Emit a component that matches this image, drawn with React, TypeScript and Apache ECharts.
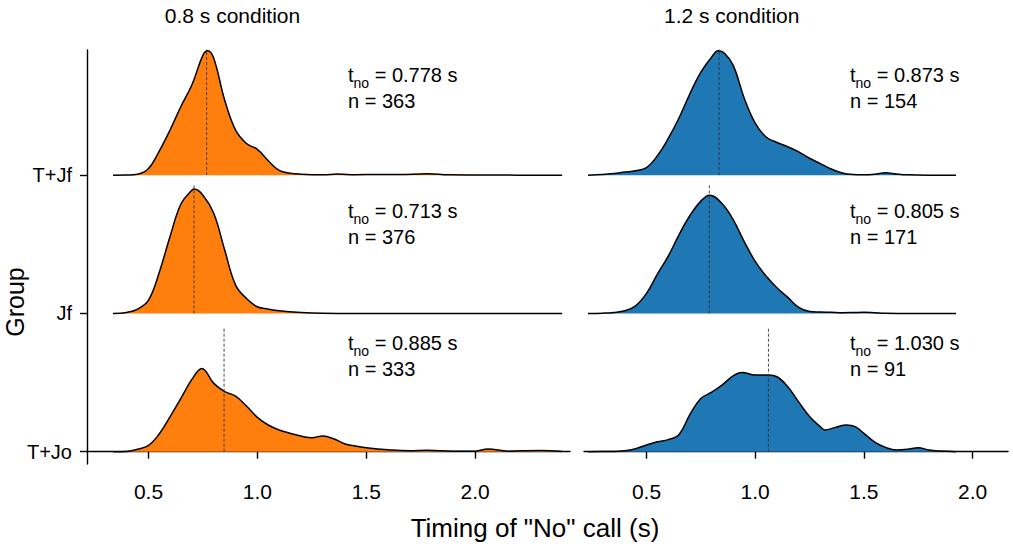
import React, { useEffect, useRef } from "react";
import * as echarts from "echarts";

// Groups, listed from top ridge to bottom ridge
const groups = ["T+Jf", "Jf", "T+Jo"];
const conditions = ["0.8 s condition", "1.2 s condition"];
const xTicks = [0.5, 1.0, 1.5, 2.0];
const groupTicks = [0, 1, 2];

// ---- 0.8 s condition: density curves (height in ridge units) ----
const x08TJf = [0.337, 0.4, 0.45, 0.5, 0.55, 0.6, 0.65, 0.7, 0.75, 0.772, 0.8, 0.85, 0.9, 0.95, 1.0, 1.05, 1.1, 1.15, 1.2, 1.3, 1.37, 1.45, 1.55, 1.65, 1.78, 1.88, 2.0, 2.2, 2.4];
const d08TJf = [0, 0.001, 0.007, 0.048, 0.176, 0.33, 0.5, 0.655, 0.868, 0.899, 0.843, 0.542, 0.325, 0.229, 0.186, 0.104, 0.034, 0.014, 0.007, 0.003, 0.008, 0.003, 0.005, 0.004, 0.01, 0.002, 0.001, 0, 0];

const x08Jf = [0.337, 0.4, 0.45, 0.5, 0.55, 0.6, 0.65, 0.7, 0.71, 0.75, 0.8, 0.85, 0.9, 0.95, 1.0, 1.05, 1.1, 1.2, 1.3, 1.4, 2.4];
const d08Jf = [0, 0.007, 0.031, 0.096, 0.3, 0.562, 0.795, 0.892, 0.899, 0.855, 0.723, 0.458, 0.205, 0.108, 0.048, 0.031, 0.019, 0.007, 0.001, 0, 0];

const x08TJo = [0.337, 0.4, 0.45, 0.5, 0.55, 0.6, 0.65, 0.7, 0.745, 0.8, 0.85, 0.9, 0.95, 1.0, 1.05, 1.1, 1.15, 1.2, 1.25, 1.3, 1.35, 1.4, 1.45, 1.5, 1.6, 1.7, 1.78, 1.9, 2.0, 2.06, 2.15, 2.3, 2.4];
const d08TJo = [0, 0.002, 0.017, 0.045, 0.13, 0.255, 0.39, 0.525, 0.602, 0.494, 0.434, 0.402, 0.33, 0.248, 0.193, 0.157, 0.133, 0.113, 0.101, 0.113, 0.094, 0.058, 0.041, 0.029, 0.014, 0.006, 0.01, 0.003, 0.004, 0.019, 0.004, 0.008, 0.002];

// ---- 1.2 s condition ----
const x12TJf = [0.231, 0.3, 0.35, 0.4, 0.45, 0.5, 0.55, 0.6, 0.65, 0.7, 0.75, 0.8, 0.83, 0.86, 0.9, 0.95, 1.0, 1.05, 1.1, 1.15, 1.2, 1.25, 1.3, 1.35, 1.4, 1.45, 1.5, 1.55, 1.6, 1.65, 1.7, 1.8, 1.924];
const d12TJf = [0, 0.005, 0.012, 0.022, 0.031, 0.055, 0.14, 0.265, 0.415, 0.59, 0.745, 0.855, 0.899, 0.88, 0.79, 0.555, 0.376, 0.276, 0.236, 0.205, 0.168, 0.122, 0.083, 0.044, 0.016, 0.005, 0.003, 0.007, 0.017, 0.008, 0.002, 0, 0];

const x12Jf = [0.231, 0.3, 0.35, 0.4, 0.45, 0.5, 0.55, 0.6, 0.65, 0.7, 0.75, 0.79, 0.85, 0.9, 0.95, 1.0, 1.05, 1.1, 1.15, 1.2, 1.25, 1.3, 1.35, 1.4, 1.45, 1.5, 1.55, 1.6, 1.7, 1.924];
const d12Jf = [0, 0.002, 0.007, 0.019, 0.055, 0.145, 0.285, 0.414, 0.57, 0.708, 0.812, 0.855, 0.79, 0.675, 0.518, 0.376, 0.27, 0.185, 0.116, 0.043, 0.014, 0.01, 0.008, 0.005, 0.006, 0.008, 0.005, 0.002, 0, 0];

const x12TJo = [0.231, 0.3, 0.35, 0.4, 0.45, 0.5, 0.55, 0.6, 0.65, 0.7, 0.75, 0.8, 0.85, 0.9, 0.94, 1.0, 1.06, 1.1, 1.15, 1.2, 1.25, 1.3, 1.32, 1.37, 1.42, 1.46, 1.5, 1.55, 1.6, 1.65, 1.7, 1.75, 1.8, 1.85, 1.924];
const d12TJo = [0, 0.002, 0.002, 0.007, 0.022, 0.048, 0.072, 0.087, 0.125, 0.27, 0.385, 0.43, 0.485, 0.55, 0.573, 0.554, 0.554, 0.542, 0.47, 0.36, 0.255, 0.18, 0.157, 0.176, 0.193, 0.181, 0.133, 0.07, 0.031, 0.012, 0.017, 0.029, 0.012, 0.005, 0];

// dashed reference lines (x position and height in ridge units), top to bottom
const lineX08 = [0.767, 0.709, 0.847];
const lineX12 = [0.834, 0.789, 1.061];
const lineH08 = [0.983, 0.94, 0.892];
const lineH12 = [0.983, 0.94, 0.892];

// annotations, top to bottom
const tno08 = ["0.778", "0.713", "0.885"];
const n08 = [363, 376, 333];
const tno12 = ["0.873", "0.805", "1.030"];
const n12 = [154, 171, 91];

const FONT = "'Liberation Sans', Arial, Helvetica, sans-serif";
const fills = ["#FF7F0E", "#1F77B4"];

export default function App() {
  const ref = useRef<HTMLDivElement>(null);

  useEffect(() => {
    document.body.style.margin = "0";
    if (!ref.current) return;
    const chart = echarts.init(ref.current, undefined, { renderer: "svg" });

    const panels = [
      { xs: [x08TJf, x08Jf, x08TJo], ds: [d08TJf, d08Jf, d08TJo], lx: lineX08, lh: lineH08, tno: tno08, n: n08 },
      { xs: [x12TJf, x12Jf, x12TJo], ds: [d12TJf, d12Jf, d12TJo], lx: lineX12, lh: lineH12, tno: tno12, n: n12 },
    ];

    const series: any[] = [];
    panels.forEach((p, pi) => {
      groups.forEach((g, gi) => {
        const off = groups.length - 1 - gi;
        series.push({
          name: `${conditions[pi]} ${g}`,
          type: "line",
          xAxisIndex: pi,
          yAxisIndex: pi,
          data: p.xs[gi].map((x, k) => [x, p.ds[gi][k] + off]),
          smooth: 0.4,
          symbol: "none",
          silent: true,
          lineStyle: { color: "#000", width: 1.5 },
          areaStyle: { color: fills[pi], opacity: 1, origin: off },
          z: 2 + gi,
        });
        series.push({
          type: "line",
          xAxisIndex: pi,
          yAxisIndex: pi,
          data: [
            [p.lx[gi], off],
            [p.lx[gi], off + p.lh[gi]],
          ],
          symbol: "none",
          silent: true,
          lineStyle: { color: "#333", width: 0.9, type: [3, 2] },
          z: 2 + gi,
        });
      });
    });

    const lineY1 = [75, 211, 343];
    const annX = [348, 850];
    const graphics: any[] = [];
    panels.forEach((p, pi) => {
      groups.forEach((g, gi) => {
        graphics.push({
          type: "text",
          x: annX[pi],
          y: lineY1[gi],
          style: {
            text: `{a|t}{b|no}{a| = ${p.tno[gi]} s}`,
            align: "left",
            verticalAlign: "middle",
            rich: {
              a: { fontSize: 20, lineHeight: 30, fontFamily: FONT, fill: "#000" },
              b: { fontSize: 14, lineHeight: 16, verticalAlign: "bottom", fontFamily: FONT, fill: "#000" },
            },
          },
        });
        graphics.push({
          type: "text",
          x: annX[pi],
          y: lineY1[gi] + 26,
          style: {
            text: `n = ${p.n[gi]}`,
            fontSize: 20,
            fontFamily: FONT,
            fill: "#000",
            align: "left",
            verticalAlign: "middle",
          },
        });
      });
    });
    const titleX = [232.5, 731.7];
    conditions.forEach((c, i) => {
      graphics.push({
        type: "text",
        x: titleX[i],
        y: 15,
        style: { text: c, fontSize: 21, fontFamily: FONT, fill: "#000", align: "center", verticalAlign: "middle" },
      });
    });
    graphics.push({
      type: "text",
      x: 535,
      y: 528,
      style: { text: 'Timing of "No" call (s)', fontSize: 26, fontFamily: FONT, fill: "#000", align: "center", verticalAlign: "middle" },
    });
    graphics.push({
      type: "text",
      x: 15,
      y: 302,
      rotation: Math.PI / 2,
      style: { text: "Group", fontSize: 25, fontFamily: FONT, fill: "#000", align: "center", verticalAlign: "middle" },
    });

    const xAxisCommon = (min: number, max: number, gridIndex: number) => ({
      type: "value",
      gridIndex,
      min,
      max,
      axisLine: { show: true, lineStyle: { color: "#000", width: 1.4 } },
      axisTick: { show: true, customValues: xTicks, length: 7, lineStyle: { color: "#000", width: 1.4 } },
      axisLabel: {
        customValues: xTicks,
        formatter: (v: number) => v.toFixed(1),
        fontSize: 21,
        fontFamily: FONT,
        color: "#000",
        margin: 17,
      },
      splitLine: { show: false },
    });

    chart.setOption({
      animation: false,
      backgroundColor: "#fff",
      grid: [
        { left: 87, top: 50, width: 483, height: 414 },
        { left: 584, top: 50, width: 424, height: 414 },
      ],
      xAxis: [xAxisCommon(0.2175, 2.436, 0), xAxisCommon(0.2125, 2.163, 1)],
      yAxis: [
        {
          type: "value",
          gridIndex: 0,
          min: -0.089,
          max: 2.905,
          axisLine: { show: true, lineStyle: { color: "#000", width: 1.4 } },
          axisTick: { show: true, customValues: groupTicks, length: 7, lineStyle: { color: "#000", width: 1.4 } },
          axisLabel: {
            customValues: groupTicks,
            formatter: (v: number) => groups[groups.length - 1 - Math.round(v)],
            fontSize: 20,
            fontFamily: FONT,
            color: "#000",
            margin: 15,
          },
          splitLine: { show: false },
        },
        { type: "value", gridIndex: 1, min: -0.089, max: 2.905, show: false, splitLine: { show: false } },
      ],
      series,
      graphic: graphics,
    });

    return () => chart.dispose();
  }, []);

  return <div ref={ref} style={{ width: 1013, height: 550 }} />;
}
